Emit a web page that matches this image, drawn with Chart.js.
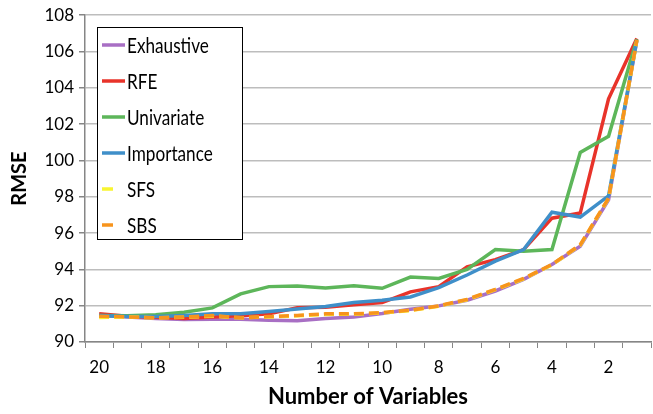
<!DOCTYPE html>
<html lang="en">
<head>
    <meta charset="UTF-8">
    <title>RMSE vs Number of Variables</title>
    <script src="https://cdn.jsdelivr.net/npm/chart.js"></script>
    <style>
        html, body { margin: 0; padding: 0; background: #fff; }
        #wrap { width: 653px; height: 414px; position: relative; }
    </style>
</head>
<body>
    <div id="wrap"><canvas id="rmseChart"></canvas></div>
    <script>
        // data
        const nVars = ['20','19','18','17','16','15','14','13','12','11','10','9','8','7','6','5','4','3','2','1'];
        const exhaustive = [91.46, 91.38, 91.29, 91.24, 91.25, 91.25, 91.2, 91.17, 91.29, 91.38, 91.57, 91.8, 91.99, 92.3, 92.81, 93.45, 94.27, 95.27, 97.83, 106.59];
        const rfe = [91.55, 91.42, 91.36, 91.3, 91.38, 91.44, 91.55, 91.88, 91.92, 92.05, 92.17, 92.76, 93.05, 94.14, 94.54, 95.09, 96.82, 97.1, 103.4, 106.72];
        const univariate = [91.46, 91.45, 91.5, 91.64, 91.88, 92.65, 93.05, 93.09, 92.98, 93.1, 92.96, 93.58, 93.5, 94.0, 95.09, 95.0, 95.09, 100.44, 101.33, 106.68];
        const importance = [91.46, 91.4, 91.4, 91.46, 91.55, 91.55, 91.68, 91.82, 91.95, 92.18, 92.3, 92.48, 92.99, 93.69, 94.45, 95.09, 97.15, 96.88, 98.05, 106.64];
        const sfs = [91.35, 91.38, 91.33, 91.36, 91.42, 91.33, 91.38, 91.44, 91.52, 91.53, 91.6, 91.73, 91.97, 92.33, 92.88, 93.48, 94.25, 95.33, 97.9, 106.62];
        const sbs = [91.42, 91.38, 91.33, 91.38, 91.46, 91.33, 91.4, 91.46, 91.55, 91.55, 91.62, 91.75, 91.99, 92.35, 92.9, 93.5, 94.27, 95.36, 97.92, 106.64];

        const FONT = 'Lato, "Open Sans", sans-serif';

        function series(label, data, color, order, dash) {
            return {
                label: label,
                data: data,
                borderColor: color,
                backgroundColor: color,
                borderWidth: 3.5,
                borderDash: dash || [],
                pointRadius: 0,
                tension: 0,
                fill: false,
                order: order
            };
        }

        // boxed legend inside the plot, like the original
        const boxLegend = {
            id: 'boxLegend',
            afterDraw(chart) {
                const ctx = chart.ctx;
                const x0 = 97, y0 = 27, w = 145, h = 212;
                ctx.save();
                ctx.fillStyle = '#fff';
                ctx.fillRect(x0, y0, w, h);
                ctx.strokeStyle = '#000';
                ctx.lineWidth = 1;
                ctx.strokeRect(x0 + 0.5, y0 + 0.5, w, h);
                ctx.font = '22px ' + FONT;
                ctx.textBaseline = 'middle';
                chart.data.datasets.forEach((ds, i) => {
                    const y = 45 + i * 36;
                    ctx.strokeStyle = ds.borderColor;
                    ctx.lineWidth = 3.5;
                    ctx.beginPath();
                    ctx.moveTo(102, y);
                    ctx.lineTo(ds.borderDash.length ? 113 : 125, y);
                    ctx.stroke();
                    // original font is narrower, squeeze a bit
                    ctx.save();
                    ctx.translate(127, y + 1);
                    ctx.scale(0.78, 1);
                    ctx.fillStyle = '#000';
                    ctx.fillText(ds.label, 0, 0);
                    ctx.restore();
                });
                ctx.restore();
            }
        };

        const ctx = document.getElementById('rmseChart').getContext('2d');
        new Chart(ctx, {
            type: 'line',
            data: {
                labels: nVars,
                datasets: [
                    series('Exhaustive', exhaustive, '#a86fc4', 6),
                    series('RFE', rfe, '#e8332a', 5),
                    series('Univariate', univariate, '#5db65a', 4),
                    series('Importance', importance, '#3f8fc9', 3),
                    series('SFS', sfs, '#f8f530', 2, [10, 5]),
                    series('SBS', sbs, '#f7941d', 1, [10, 5])
                ]
            },
            options: {
                responsive: true,
                maintainAspectRatio: false,
                animation: false,
                layout: { padding: { top: 3, right: 2, left: 0, bottom: 0 } },
                plugins: {
                    legend: { display: false },
                    tooltip: { enabled: false }
                },
                scales: {
                    x: {
                        offset: true,
                        grid: {
                            display: true,
                            drawOnChartArea: false,
                            offset: true,
                            tickLength: 6,
                            tickColor: '#868686'
                        },
                        border: { color: '#868686', width: 1.5 },
                        ticks: {
                            autoSkip: false,
                            maxRotation: 0,
                            color: '#000',
                            font: { family: FONT, size: 17 },
                            padding: 9,
                            callback: function(v, i) { return i % 2 === 0 ? nVars[i] : ''; }
                        },
                        title: {
                            display: true,
                            text: 'Number of Variables',
                            color: '#000',
                            font: { family: FONT, size: 22, weight: 'bold' },
                            padding: { top: 0, bottom: 4 }
                        },
                        afterFit: function(s) { s.height = 72; }
                    },
                    y: {
                        min: 90,
                        max: 108,
                        ticks: {
                            stepSize: 2,
                            color: '#000',
                            font: { family: FONT, size: 17 },
                            padding: 5
                        },
                        grid: {
                            color: '#bdbdbd',
                            lineWidth: 1.5,
                            tickLength: 6,
                            tickColor: '#868686'
                        },
                        border: { color: '#868686', width: 1.5 },
                        title: {
                            display: true,
                            text: 'RMSE',
                            color: '#000',
                            font: { family: FONT, size: 20, weight: 'bold' },
                            padding: { top: 8, bottom: 0 }
                        },
                        afterFit: function(s) { s.width = 85; }
                    }
                }
            },
            plugins: [boxLegend]
        });
    </script>
</body>
</html>
